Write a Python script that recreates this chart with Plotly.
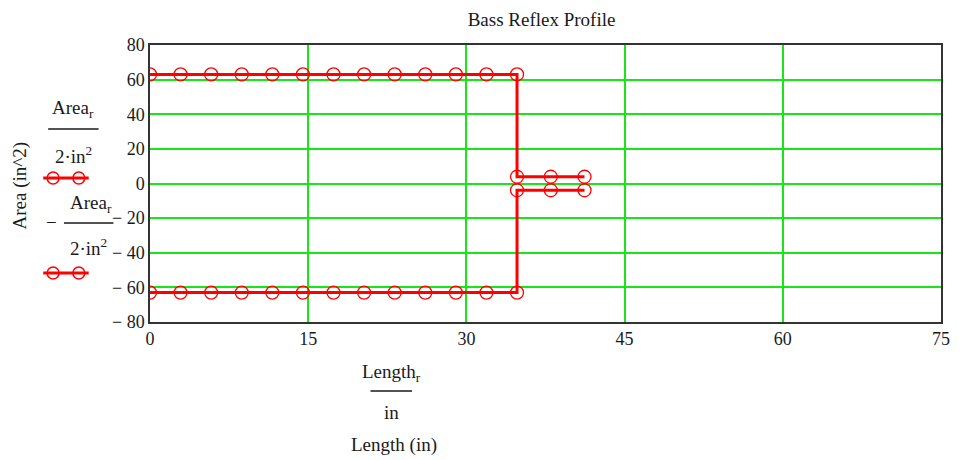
import plotly.graph_objects as go

# ---- data ----
length_r = [0, 2.9, 5.8, 8.7, 11.6, 14.5, 17.4, 20.3, 23.2, 26.1, 29.0, 31.9, 34.8, 34.8, 38.0, 41.2]
area_half = [63, 63, 63, 63, 63, 63, 63, 63, 63, 63, 63, 63, 63, 3.9, 3.9, 3.9]
area_neg = [-v for v in area_half]

x_ticks = [0, 15, 30, 45, 60, 75]
y_ticks = [80, 60, 40, 20, 0, -20, -40, -60, -80]
y_tick_text = [str(v) if v >= 0 else "\u2212 " + str(-v) for v in y_ticks]

W, H = 961, 460
L, R, T, B = 150, 11, 45, 138
PW, PH = W - L - R, H - T - B

def px(x):
    return (x - L) / PW

def py(y):
    return (H - B - y) / PH

FONT = "Liberation Serif, Times New Roman, serif"
RED = "#ff0000"
GREEN = "#19e619"
TXT = "#1a1a1a"

fig = go.Figure()
for ys in (area_half, area_neg):
    fig.add_trace(go.Scatter(
        x=length_r, y=ys, mode="lines+markers",
        line=dict(color=RED, width=3),
        marker=dict(symbol="circle-open", size=13, color=RED, line=dict(width=1.3, color=RED)),
        showlegend=False,
    ))

annotations = []
shapes = []

def text(x, y, s, size=19, angle=0):
    annotations.append(dict(x=px(x), y=py(y), xref="paper", yref="paper", text=s,
                            showarrow=False, textangle=angle,
                            font=dict(family=FONT, size=size, color=TXT),
                            xanchor="center", yanchor="middle"))

def hline(x0, x1, y, color=TXT, width=1.6):
    shapes.append(dict(type="line", xref="paper", yref="paper", x0=px(x0), x1=px(x1),
                       y0=py(y), y1=py(y), line=dict(color=color, width=width)))

def sample(y):
    hline(42, 88, y, RED, 3)
    for cx in (52, 78):
        shapes.append(dict(type="circle", xref="paper", yref="paper",
                           x0=px(cx - 6), x1=px(cx + 6), y0=py(y + 6), y1=py(y - 6),
                           line=dict(color=RED, width=1.5)))

# y axis legend-like labels
text(19, 185, "Area (in^2)", angle=-90)
text(72, 109, "Area<sub>r</sub>")
hline(47, 98, 129)
text(73, 155, "2·in<sup>2</sup>")
sample(178)
text(50, 222, "\u2212")
text(90, 204, "Area<sub>r</sub>")
hline(63, 113, 223)
text(88, 247, "2·in<sup>2</sup>")
sample(273)

# x axis labels
text(394, 373, "Length<sub>r</sub>")
hline(373, 415, 391)
text(394, 412, "in")
text(397, 445, "Length (in)")

fig.update_layout(
    width=W, height=H,
    margin=dict(l=L, r=R, t=T, b=B),
    paper_bgcolor="white", plot_bgcolor="white",
    title=dict(text="Bass Reflex Profile", xref="paper", x=px(546), xanchor="center",
               yref="container", y=1 - 19 / H, yanchor="middle",
               font=dict(family=FONT, size=19, color=TXT)),
    annotations=annotations, shapes=shapes,
    xaxis=dict(range=[0, 75], tickvals=x_ticks, ticktext=[str(v) for v in x_ticks],
               showgrid=True, gridcolor=GREEN, gridwidth=1.5, zeroline=False,
               showline=True, linecolor="#333333", linewidth=1.5, mirror=True,
               ticks="", tickfont=dict(family=FONT, size=18, color=TXT)),
    yaxis=dict(range=[-80, 80], tickvals=y_ticks, ticktext=y_tick_text,
               showgrid=True, gridcolor=GREEN, gridwidth=1.5, zeroline=False,
               showline=True, linecolor="#333333", linewidth=1.5, mirror=True,
               ticks="", tickfont=dict(family=FONT, size=18, color=TXT)),
)

fig.write_html("out.html")
